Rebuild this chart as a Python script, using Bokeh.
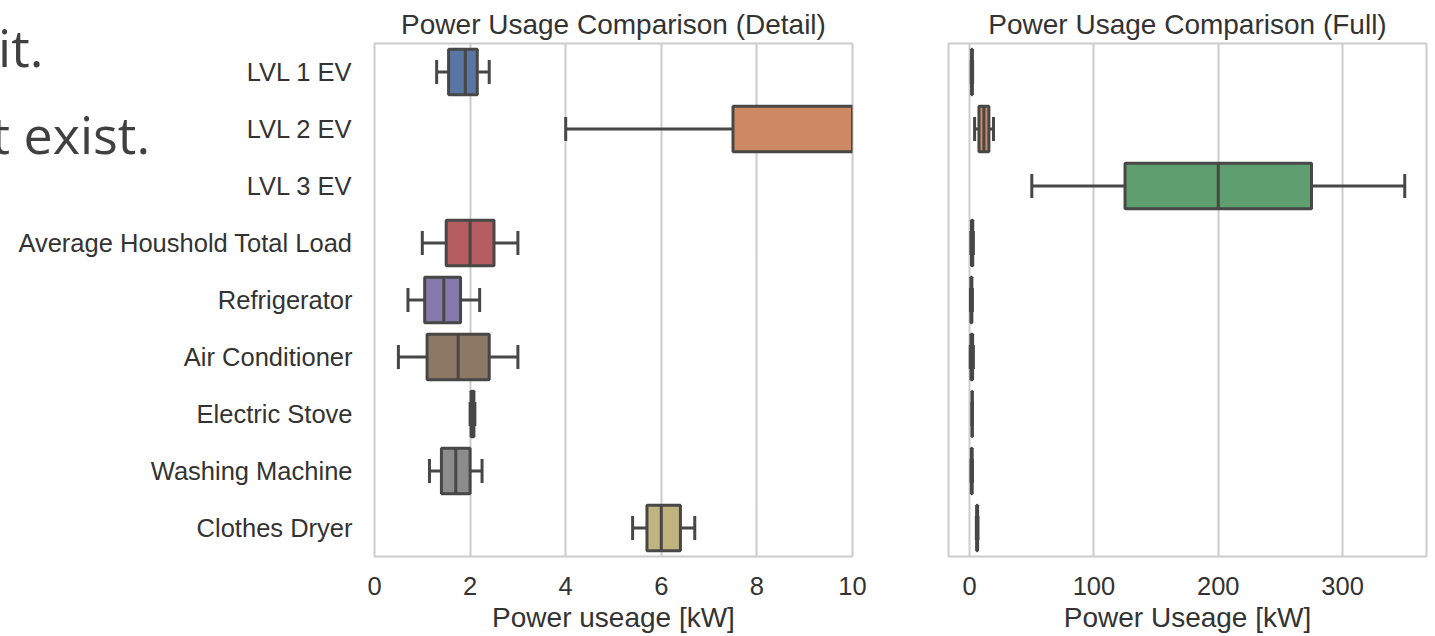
from bokeh.plotting import figure
from bokeh.layouts import row
from bokeh.models import Range1d, FactorRange, FixedTicker, Div
from bokeh.embed import file_html
from bokeh.resources import INLINE

categories = ["LVL 1 EV", "LVL 2 EV", "LVL 3 EV", "Average Houshold Total Load",
              "Refrigerator", "Air Conditioner", "Electric Stove",
              "Washing Machine", "Clothes Dryer"]
whisker_low = [1.3, 4.0, 50, 1.0, 0.7, 0.5, 2.0, 1.15, 5.4]
q1 = [1.55, 7.5, 125, 1.5, 1.05, 1.1, 2.02, 1.4, 5.7]
median = [1.9, 11.5, 200, 2.0, 1.45, 1.75, 2.05, 1.7, 6.0]
q3 = [2.15, 15.5, 275, 2.5, 1.8, 2.4, 2.08, 2.0, 6.4]
whisker_high = [2.4, 19.2, 350, 3.0, 2.2, 3.0, 2.1, 2.25, 6.7]
colors = ["#5875a4", "#cc8963", "#5f9e6e", "#b55d60", "#857aab",
          "#8d7866", "#d095bf", "#8c8c8c", "#c1b37f"]

detail_ticks = [0, 2, 4, 6, 8, 10]
full_ticks = [0, 100, 200, 300]

slide_texts = ["it.", "t exist."]

EDGE = "#474747"
TEXT = "#333333"
FONT = "Liberation Sans"
H = 636


def make_fig(title, xlabel, xr, ticks, width, mbl, mbr, show_y):
    p = figure(width=width, height=H, output_backend="svg", toolbar_location=None,
               y_range=FactorRange(factors=list(reversed(categories))),
               x_range=Range1d(*xr), y_axis_location="left" if show_y else None,
               min_border_left=mbl, min_border_right=mbr, min_border_top=43,
               min_border_bottom=80, title=title)
    p.title.align = "center"
    p.title.text_font = FONT
    p.title.text_font_style = "normal"
    p.title.text_font_size = "28px"
    p.title.text_color = TEXT
    p.title.standoff = 7
    p.outline_line_color = "#cccccc"
    p.outline_line_width = 2
    p.background_fill_color = "white"
    p.border_fill_color = "white"
    p.ygrid.grid_line_color = None
    p.xgrid.grid_line_color = "#cccccc"
    p.xgrid.grid_line_width = 2
    p.xaxis.ticker = FixedTicker(ticks=ticks)
    for ax in p.axis:
        ax.axis_line_color = None
        ax.major_tick_line_color = None
        ax.minor_tick_line_color = None
        ax.major_tick_out = 0
        ax.major_tick_in = 0
        ax.major_label_text_font = FONT
        ax.major_label_text_font_size = "25.5px"
        ax.major_label_text_color = TEXT
    p.xaxis.major_label_standoff = 20
    p.xaxis.axis_label = xlabel
    p.xaxis.axis_label_text_font = FONT
    p.xaxis.axis_label_text_font_size = "28px"
    p.xaxis.axis_label_text_font_style = "normal"
    p.xaxis.axis_label_text_color = TEXT
    p.xaxis.axis_label_standoff = 4
    if show_y:
        p.yaxis.major_label_standoff = 22

    # only the boxes that reach into the visible x range
    vis = [i for i in range(len(categories)) if whisker_low[i] <= xr[1]]
    cat = [categories[i] for i in vis]
    lo = [whisker_low[i] for i in vis]
    b1 = [q1[i] for i in vis]
    md = [median[i] for i in vis]
    b3 = [q3[i] for i in vis]
    hi = [whisker_high[i] for i in vis]
    col = [colors[i] for i in vis]

    p.segment(x0=lo, x1=b1, y0=cat, y1=cat, line_color=EDGE, line_width=3)
    p.segment(x0=b3, x1=hi, y0=cat, y1=cat, line_color=EDGE, line_width=3)
    p.rect(x=lo, y=cat, width=3, width_units="screen", height=0.42,
           fill_color=EDGE, line_color=None)
    p.rect(x=hi, y=cat, width=3, width_units="screen", height=0.42,
           fill_color=EDGE, line_color=None)
    p.hbar(y=cat, left=b1, right=b3, height=0.8, fill_color=col,
           line_color=EDGE, line_width=3)
    p.rect(x=md, y=cat, width=3, width_units="screen", height=0.8,
           fill_color=EDGE, line_color=None)
    return p


p1 = make_fig("Power Usage Comparison (Detail)", "Power useage [kW]", (0, 10),
              detail_ticks, 880, 374, 28, True)
p2 = make_fig("Power Usage Comparison (Full)", "Power Useage [kW]", (-17, 367.5),
              full_ticks, 550, 68, 4, False)

# fragments of slide text behind the chart
span = ('<span style="position:absolute;left:{l}px;top:{t}px;white-space:nowrap;'
        'font-family:\'Open Sans\';font-size:52px;line-height:52px;color:#404040;">{s}</span>')
html = ('<div style="position:relative;width:160px;height:170px;">'
        + span.format(l=-7, t=16, s=slide_texts[0])
        + span.format(l=-13.5, t=102.5, s=slide_texts[1])
        + '</div>')
slide = Div(text=html, width=160, height=170,
            styles={"position": "absolute", "left": "0px", "top": "0px", "z-index": "5"})

layout = row(p1, p2, slide)
open("out.html", "w").write(file_html(layout, INLINE))
